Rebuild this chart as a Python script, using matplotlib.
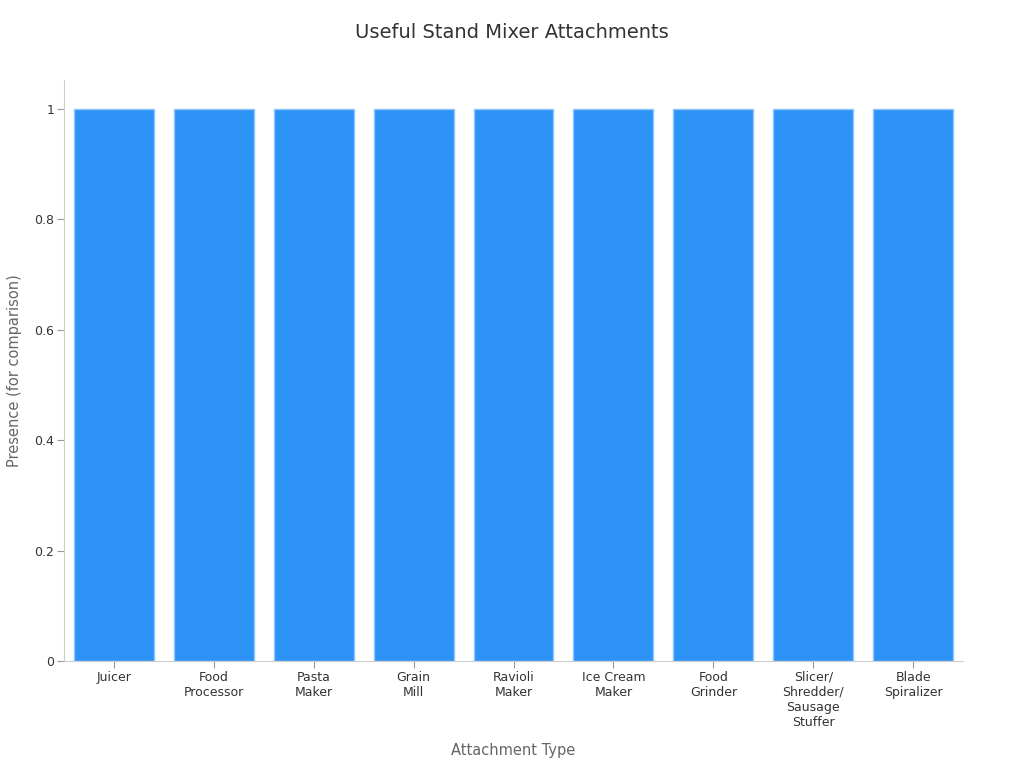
import numpy as np
import matplotlib.pyplot as plt

attachments = ['Juicer', 'Food\nProcessor', 'Pasta\nMaker', 'Grain\nMill', 'Ravioli\nMaker',
               'Ice Cream\nMaker', 'Food\nGrinder', 'Slicer/\nShredder/\nSausage\nStuffer',
               'Blade\nSpiralizer']
presence = [1, 1, 1, 1, 1, 1, 1, 1, 1]
y_ticks = [0, 0.2, 0.4, 0.6, 0.8, 1]
y_tick_labels = ['0', '0.2', '0.4', '0.6', '0.8', '1']

fig = plt.figure(figsize=(10.24, 7.68), dpi=100)
ax = fig.add_axes([0.0625, 0.1393, 0.878, 0.7565])

x = np.arange(len(attachments))
ax.bar(x, presence, width=0.8, color='#2E93F7', edgecolor='#8CC4F7', linewidth=1)

ax.set_xlim(-0.5, len(attachments) - 0.5)
ax.set_ylim(0, 1.0525)
ax.set_xticks(x)
ax.set_xticklabels(attachments, fontsize=9, color='#333333')
ax.set_yticks(y_ticks)
ax.set_yticklabels(y_tick_labels, fontsize=9, color='#333333')
ax.tick_params(axis='both', color='#999999', length=5, pad=2)

for side in ['top', 'right']:
    ax.spines[side].set_visible(False)
for side in ['left', 'bottom']:
    ax.spines[side].set_color('#cccccc')

ax.set_xlabel('Attachment Type', fontsize=10.5, color='#666666', labelpad=10)
ax.set_ylabel('Presence (for comparison)', fontsize=10.5, color='#666666', labelpad=9)
fig.suptitle('Useful Stand Mixer Attachments', fontsize=14, color='#333333', y=0.97)

fig.savefig('out.png', dpi=100)
